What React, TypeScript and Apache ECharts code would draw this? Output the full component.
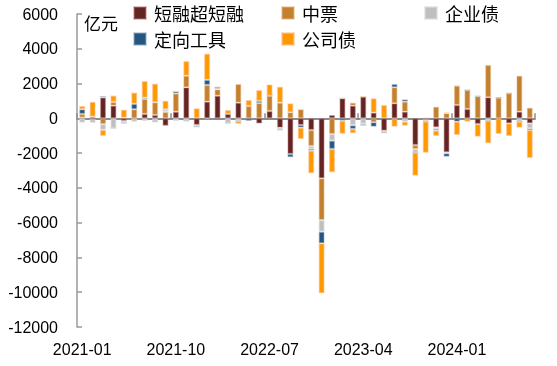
import React, { useEffect, useRef } from "react";
import * as echarts from "echarts";

const months: string[] = [];
for (let y = 2021; y <= 2024; y++) {
  for (let m = 1; m <= 12; m++) {
    if (y === 2024 && m > 8) break;
    months.push(`${y}-${m < 10 ? "0" + m : m}`);
  }
}

const seriesNames = ["短融超短融", "中票", "企业债", "定向工具", "公司债"];

const dr = [50, -60, 1200, 730, -150, 0, 250, 190, -430, 380, 1780, -380, 960, 1300, 250, 900, 0, -300, 420, -537, -2050, -383, -671, -3450, 190, 1150, 728, 1245, 326, -709, 862, 383, -1533, 0, -517, -1950, 767, 537, -326, 1208, 0, -288, 383, -288];
const mtn = [200, 0, -330, 210, 40, 520, 860, 730, 360, 1050, 670, 0, 960, 364, 0, 1073, 709, 880, 880, 900, 345, 518, -920, -2400, -900, 0, 172, 0, -230, 0, 920, 575, -230, -80, 670, 288, 1112, 1093, 1265, 1860, 1190, 1438, 2070, 613];
const ent = [-250, -200, -340, -560, -120, -200, -150, -190, 80, -150, -150, -100, -50, 40, -270, -170, 0, 0, 0, -134, 0, 0, -172, -670, -383, 0, -400, -326, 0, -115, 0, -192, -210, -100, -100, -60, 0, 0, 0, -134, 0, 0, -192, -288];
const ppn = [270, 90, 80, 0, 0, 310, 75, 0, 75, 115, 0, 0, 290, 96, 0, 0, -150, 115, 0, 0, -190, -153, -96, -670, -479, -140, -210, -77, -250, 0, 192, 134, 0, 0, -90, -200, -192, 0, 30, 0, 0, 0, 0, -96];
const corp = [190, 860, -340, 370, 460, 650, 960, 1075, 500, 0, 840, 575, 1510, 0, 230, -150, 345, 630, 650, 920, 518, -652, -1303, -2875, -1342, -750, -250, 0, 824, 767, -480, -230, -1323, -1800, -307, 58, -767, -192, -728, -1303, -900, -728, -345, -1608];

const colors = ["#632523", "#C3802F", "#BFBFBF", "#255680", "#FF9900"];
const borderColors = ["rgba(190,120,120,0.45)", "rgba(230,180,120,0.45)", "rgba(220,220,220,0.6)", "rgba(140,170,200,0.45)", "rgba(255,190,140,0.55)"];
const yTicks = { min: -12000, max: 6000, interval: 2000 };

export default function App() {
  const ref = useRef<HTMLDivElement>(null);
  useEffect(() => {
    if (!ref.current) return;
    const chart = echarts.init(ref.current, null, { renderer: "svg" });
    const data = [dr, mtn, ent, ppn, corp];
    const legendPos = [
      { left: 133, top: 3 },
      { left: 281, top: 3 },
      { left: 424, top: 3 },
      { left: 133, top: 29 },
      { left: 281, top: 29 },
    ];
    const font = "'Liberation Sans', Arial, sans-serif";
    chart.setOption({
      animation: false,
      grid: { left: 77, right: 22, top: 14, bottom: 39, containLabel: false },
      legend: seriesNames.map((n, i) => ({
        data: [n],
        left: legendPos[i].left,
        top: legendPos[i].top,
        padding: 0,
        itemGap: 0,
        itemWidth: 12,
        itemHeight: 12,
        icon: "rect",
        selectedMode: false,
        textStyle: { fontSize: 18, lineHeight: 20, color: "#000", fontFamily: "'Noto Sans CJK SC', sans-serif", padding: [0, 0, 0, 3] },
      })),
      graphic: [
        {
          type: "text",
          left: 84,
          top: 14,
          style: { text: "亿元", fontSize: 17, fill: "#000", fontFamily: "'Noto Sans CJK SC', sans-serif" },
        },
      ],
      xAxis: [
        {
          type: "category",
          data: months,
          position: "bottom",
          axisLine: { show: false, onZero: false },
          axisTick: { show: false },
          axisLabel: { interval: 8, fontSize: 16, color: "#000", fontFamily: font, margin: 14 },
        },
        {
          type: "category",
          data: months,
          position: "bottom",
          axisLine: { show: true, onZero: true, lineStyle: { color: "#8c8c8c", width: 2 } },
          axisTick: { show: true, inside: true, interval: 8, length: 5, lineStyle: { color: "#8c8c8c", width: 1.5 } },
          axisLabel: { show: false },
        },
      ],
      yAxis: {
        type: "value",
        min: yTicks.min,
        max: yTicks.max,
        interval: yTicks.interval,
        axisLine: { show: true, lineStyle: { color: "#9a9a9a", width: 1.5 } },
        axisTick: { show: true, inside: true, length: 5, lineStyle: { color: "#9a9a9a", width: 1.5 } },
        splitLine: { show: false },
        axisLabel: { fontSize: 16, color: "#000", fontFamily: font, margin: 19, formatter: (v: number) => String(v) },
      },
      series: seriesNames.map((n, i) => ({
        name: n,
        type: "bar",
        stack: "total",
        xAxisIndex: 0,
        barWidth: 6,
        data: data[i],
        itemStyle: { color: colors[i], borderColor: borderColors[i], borderWidth: 1.2 },
      })),
    });
    return () => chart.dispose();
  }, []);
  return <div ref={ref} style={{ position: "fixed", left: 0, top: 0, width: 557, height: 366 }} />;
}
